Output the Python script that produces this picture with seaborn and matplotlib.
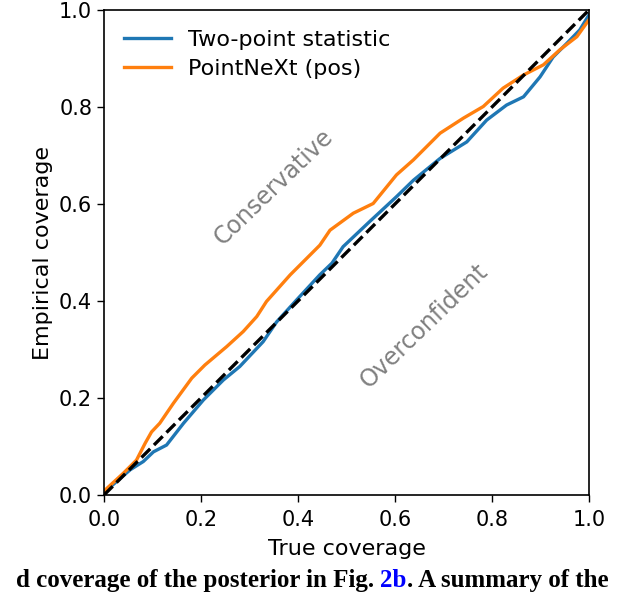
import matplotlib
matplotlib.use("Agg")
import matplotlib.pyplot as plt
import pandas as pd
import seaborn as sns

# coverage curves
two_point_x = [0.0, 0.002, 0.054, 0.081, 0.102, 0.129, 0.164, 0.205, 0.246, 0.280,
               0.328, 0.356, 0.397, 0.445, 0.470, 0.493, 0.548, 0.603, 0.638, 0.693,
               0.748, 0.789, 0.830, 0.865, 0.899, 0.926, 0.954, 0.981, 1.0]
two_point_y = [0.0, 0.007, 0.052, 0.069, 0.089, 0.103, 0.148, 0.196, 0.237, 0.265,
               0.316, 0.357, 0.402, 0.454, 0.478, 0.512, 0.564, 0.615, 0.649, 0.694,
               0.728, 0.773, 0.804, 0.821, 0.862, 0.903, 0.931, 0.959, 0.99]

pointnext_x = [0.0, 0.002, 0.040, 0.067, 0.085, 0.098, 0.115, 0.143, 0.181, 0.208,
               0.253, 0.287, 0.315, 0.335, 0.384, 0.418, 0.445, 0.466, 0.514, 0.555,
               0.603, 0.638, 0.693, 0.741, 0.782, 0.823, 0.865, 0.906, 0.940, 0.975,
               1.0]
pointnext_y = [0.0, 0.01, 0.045, 0.072, 0.107, 0.130, 0.148, 0.189, 0.241, 0.268,
               0.306, 0.337, 0.368, 0.399, 0.454, 0.488, 0.515, 0.546, 0.581, 0.601,
               0.660, 0.691, 0.746, 0.777, 0.801, 0.839, 0.866, 0.887, 0.918, 0.945,
               0.98]

diag = [0.0, 1.0]
series_names = ["Two-point statistic", "PointNeXt (pos)"]
ticks = [0.0, 0.2, 0.4, 0.6, 0.8, 1.0]
caption_parts = [("d coverage of the posterior in Fig. ", "black"),
                 ("2b", "blue"),
                 (". A summary of the", "black")]

df = pd.concat([
    pd.DataFrame({"x": two_point_x, "y": two_point_y, "Approach": series_names[0]}),
    pd.DataFrame({"x": pointnext_x, "y": pointnext_y, "Approach": series_names[1]}),
], ignore_index=True)

plt.rcParams["font.family"] = ["DejaVu Sans"]
fig = plt.figure(figsize=(6.4, 5.92), dpi=100)
ax = fig.add_axes([104 / 640, 1 - 495 / 592, 485 / 640, 485 / 592])

sns.lineplot(data=df, x="x", y="y", hue="Approach", hue_order=series_names,
             palette=["#1f77b4", "#ff7f0e"], estimator=None, sort=False,
             linewidth=2.4, ax=ax)
ax.plot(diag, diag, "k--", linewidth=2.4, zorder=3)

ax.set_xlim(0, 1)
ax.set_ylim(0, 1)
ax.set_xticks(ticks)
ax.set_yticks(ticks)
ax.tick_params(labelsize=15, length=5, width=1)
ax.tick_params(axis="x", pad=6)
ax.set_xlabel("True coverage", fontsize=16, labelpad=6)
ax.set_ylabel("Empirical coverage", fontsize=16)
for s in ax.spines.values():
    s.set_linewidth(1.2)

ax.legend(loc="upper left", frameon=False, fontsize=16, handlelength=2.1,
          labelspacing=0.4)

ax.text(0.349, 0.635, "Conservative", rotation=44, color="gray", fontsize=17,
        ha="center", va="center")
ax.text(0.659, 0.35, "Overconfident", rotation=44, color="gray", fontsize=17,
        ha="center", va="center")

# caption line from the paper page, pieces chained left to right
renderer = fig.canvas.get_renderer()
x_px = 16
for txt, col in caption_parts:
    t = fig.text(x_px / 640, 1 - 587 / 592, txt, family="Liberation Serif",
                 weight="bold", fontsize=18, va="baseline", color=col)
    x_px = t.get_window_extent(renderer).x1

fig.savefig("out.png", dpi=100)
